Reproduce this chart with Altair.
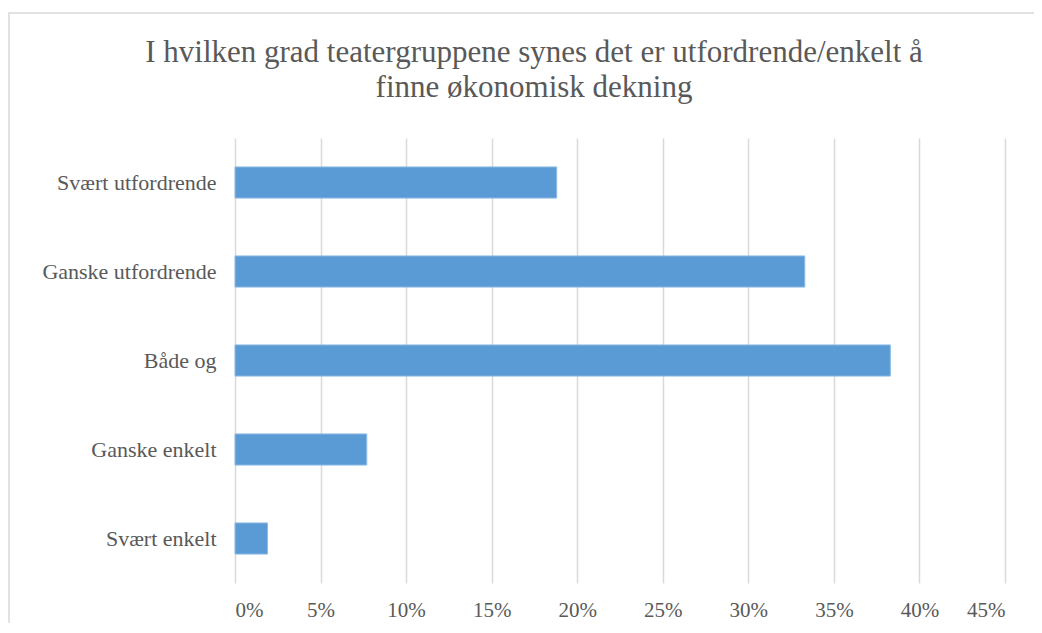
import altair as alt
import pandas as pd

categories = ["Svært utfordrende", "Ganske utfordrende", "Både og", "Ganske enkelt", "Svært enkelt"]
values = [0.188, 0.333, 0.383, 0.077, 0.019]
title_lines = ["I hvilken grad teatergruppene synes det er utfordrende/enkelt å", "finne økonomisk dekning"]
x_ticks = [0, 0.05, 0.10, 0.15, 0.20, 0.25, 0.30, 0.35, 0.40, 0.45]

df = pd.DataFrame({"kategori": categories, "andel": values})
one = pd.DataFrame({"k": [0]})

FONT = "Liberation Serif"
GREY = "#595959"

bars = alt.Chart(df).mark_bar(color="#5b9bd5", stroke="#8fbbe6", strokeWidth=1).encode(
    x=alt.X("andel:Q",
            scale=alt.Scale(domain=[0, 0.45], nice=False),
            axis=alt.Axis(values=x_ticks, format=".0%", title=None, domain=False, ticks=False,
                          labelPadding=16, labelFontSize=21, labelColor=GREY, labelFont=FONT,
                          gridColor="#d9d9d9", gridWidth=1.5)),
    y=alt.Y("kategori:N", sort=categories,
            scale=alt.Scale(paddingInner=0.65, paddingOuter=0.325),
            axis=alt.Axis(title=None, domain=False, ticks=False, grid=False,
                          labelPadding=19, labelFontSize=22, labelColor=GREY, labelFont=FONT)),
)

frame = alt.Chart(one).mark_rect(fill=None, stroke="#d9d9d9", strokeWidth=1.5).encode(
    x=alt.value(-226), x2=alt.value(830), y=alt.value(-125), y2=alt.value(520)
)

t1 = alt.Chart(one).mark_text(font=FONT, fontSize=31, color=GREY, align="center", baseline="alphabetic").encode(
    x=alt.value(299), y=alt.value(-76), text=alt.value(title_lines[0])
)
t2 = alt.Chart(one).mark_text(font=FONT, fontSize=31, color=GREY, align="center", baseline="alphabetic").encode(
    x=alt.value(299), y=alt.value(-41), text=alt.value(title_lines[1])
)

chart = alt.layer(frame, bars, t1, t2).properties(
    width=770,
    height=445,
    autosize=alt.AutoSizeParams(type="none"),
    padding={"left": 227, "top": 130, "right": 29, "bottom": 40},
).configure_view(stroke=None)

chart.save("out.html", embed_options={"renderer": "svg", "actions": False})
